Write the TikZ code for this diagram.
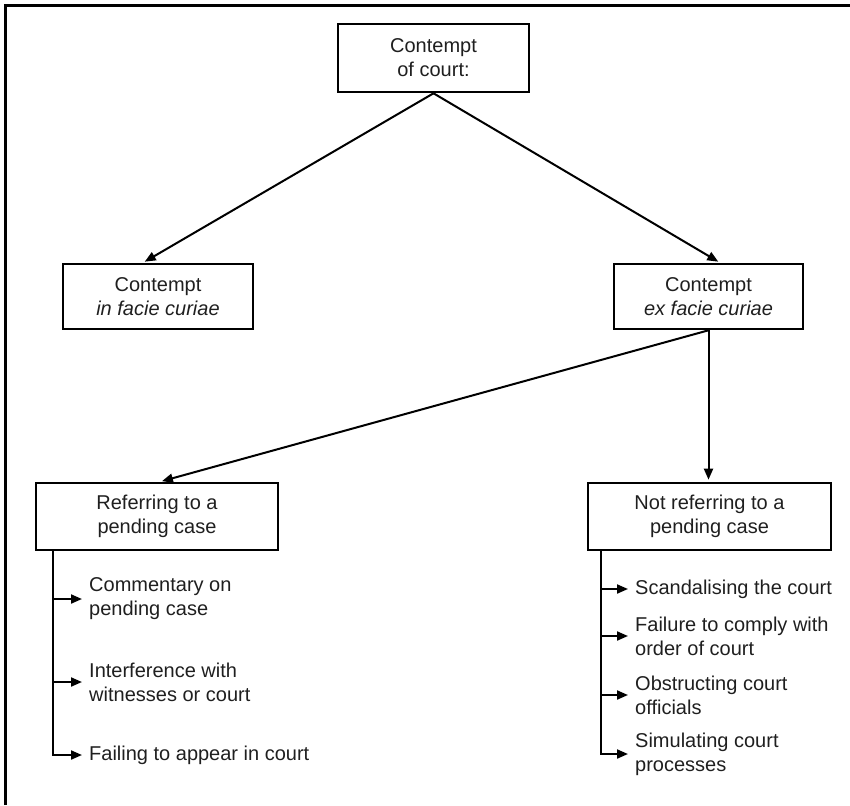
\documentclass[tikz,border=0pt]{standalone}
\usepackage{fontspec}
\setmainfont{Liberation Sans}
\usetikzlibrary{arrows.meta}
\tikzset{
  box/.style={draw=black, line width=2.6pt, align=center, inner sep=0pt,
    font=\fontsize{20}{24}\selectfont, text=black!88},
  item/.style={anchor=west, align=left, inner xsep=7pt, inner ysep=0pt,
    font=\fontsize{20}{24}\selectfont, text=black!88},
  link/.style={line width=2pt},
  arr/.style={link, -{Triangle[length=11pt,width=9pt]}},
}
\begin{document}
\begin{tikzpicture}[x=1pt,y=-1pt]
\useasboundingbox (0,0) rectangle (850,805);
\draw[line width=3pt] (5,805) -- (5,6) -- (850,6);

\node[box, minimum width=191pt, minimum height=68pt] (top) at (433.5,58) {Contempt\\of court:};
\node[box, minimum width=190pt, minimum height=65pt] (infacie) at (158,296.5) {Contempt\\\textit{in facie curiae}};
\node[box, minimum width=189pt, minimum height=65pt] (exfacie) at (708.5,296.5) {Contempt\\\textit{ex facie curiae}};
\node[box, minimum width=242pt, minimum height=67pt] (ref) at (157,516.5) {Referring to a\\pending case};
\node[box, minimum width=243pt, minimum height=67pt] (notref) at (709.5,516.5) {Not referring to a\\pending case};

\draw[arr, shorten >=2pt] (top.south) -- ([xshift=-15pt]infacie.north);
\draw[arr, shorten >=2pt] (top.south) -- ([xshift=11.5pt]exfacie.north);
\draw[arr, shorten >=2pt] (exfacie.south) -- ([xshift=3pt]ref.north);
\draw[arr, shorten >=2pt] (exfacie.south) -- (exfacie.south |- notref.north);

\node[item] (c1) at (82,599) {Commentary on\\pending case};
\node[item] (c2) at (82,682) {Interference with\\witnesses or court};
\node[item] (c3) at (82,755) {Failing to appear in court};

\node[item] (d1) at (628,589) {Scandalising the court};
\node[item] (d2) at (628,636) {Failure to comply with\\order of court};
\node[item] (d3) at (628,695) {Obstructing court\\officials};
\node[item] (d4) at (628,754) {Simulating court\\processes};

\coordinate (ls) at ([xshift=18pt]ref.south west);
\coordinate (rs) at ([xshift=14pt]notref.south west);
\foreach \n in {c1,c2,c3} \draw[arr] (ls) |- (\n.west);
\foreach \n in {d1,d2,d3,d4} \draw[arr] (rs) |- (\n.west);
\end{tikzpicture}
\end{document}
